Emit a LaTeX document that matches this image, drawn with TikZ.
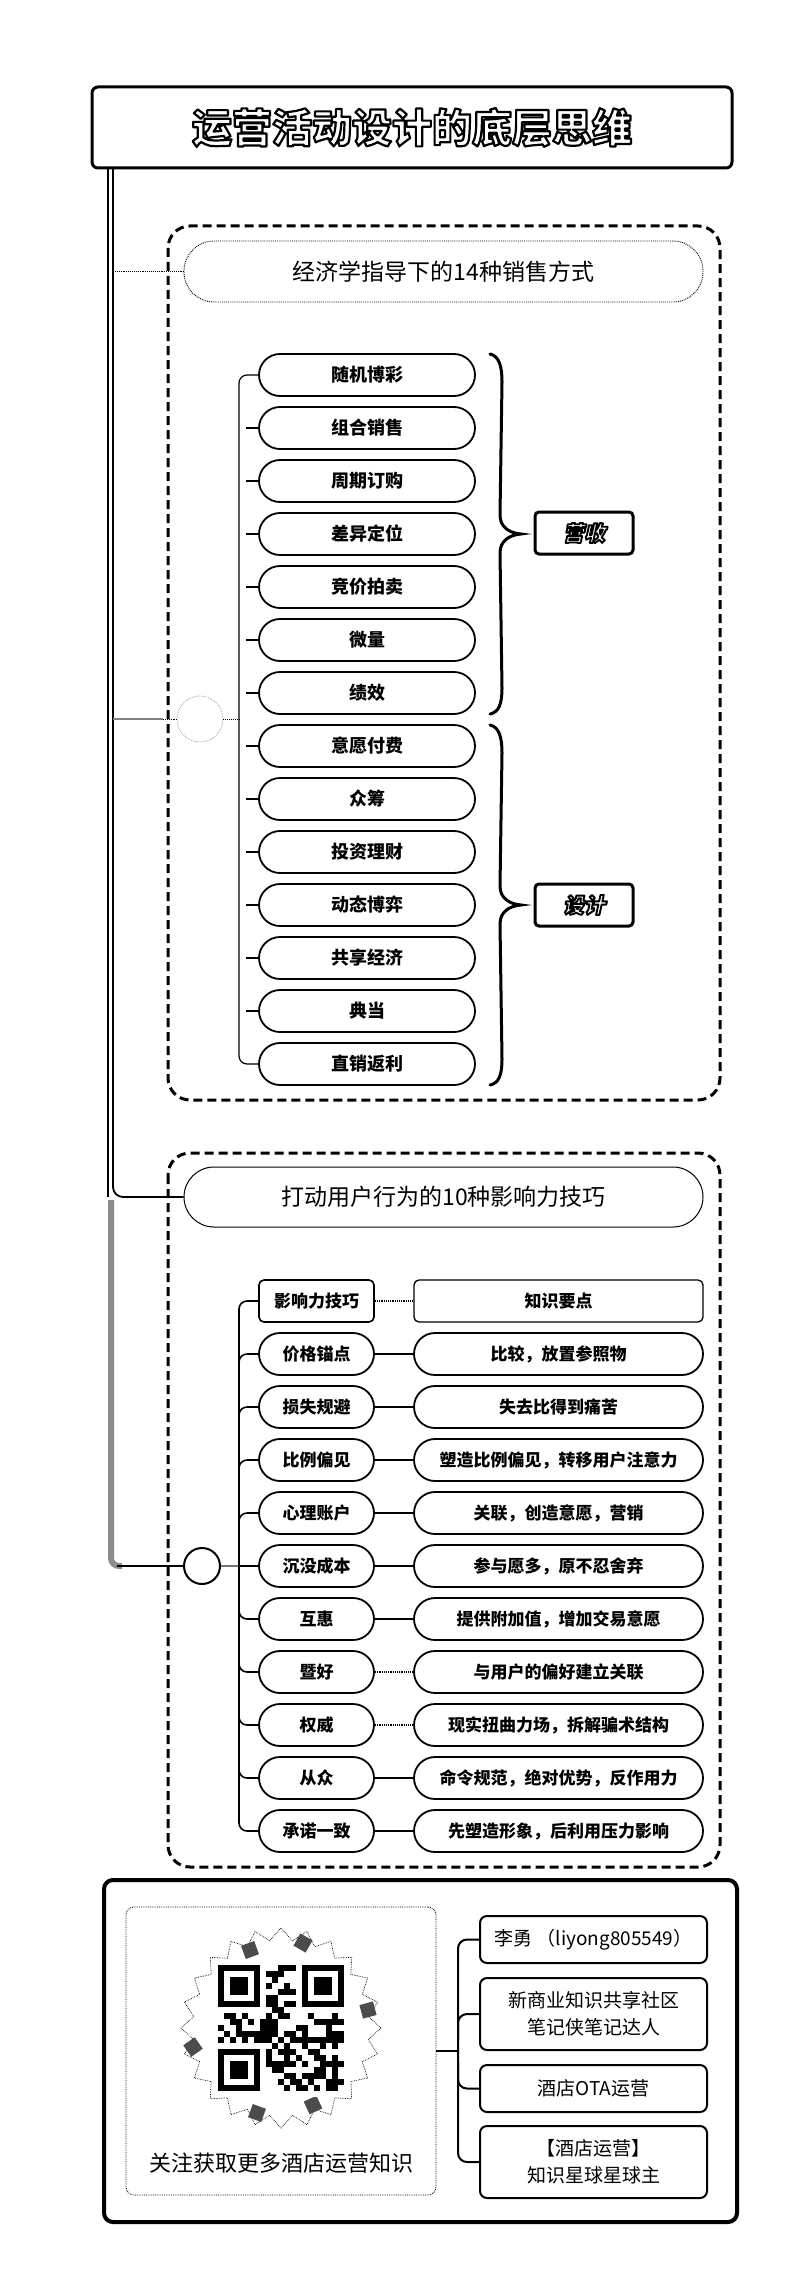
\documentclass[tikz,border=0pt]{standalone}
\usepackage{fontspec}
\setmainfont{Noto Sans CJK SC}
\newfontfamily\slantfont{Noto Sans CJK SC}[FakeSlant=0.22]
\usetikzlibrary{calc}
\newcommand\outl[2]{\special{pdf:literal direct 1 g 0 G 2 Tr 1 j #1 w}#2\special{pdf:literal direct 0 Tr 0 g 0 G 0 j 0.4 w}}
\tikzset{
  itembox/.style={draw, line width=1.8, rounded corners=21, minimum width=216, minimum height=42, inner sep=0, font=\bfseries\fontsize{18}{20}\selectfont},
  leftbox/.style={draw, line width=1.8, rounded corners=21, minimum width=115, minimum height=42, inner sep=0, font=\bfseries\fontsize{17}{20}\selectfont},
  rightbox/.style={draw, line width=1.8, rounded corners=21, minimum width=289, minimum height=42, inner sep=0, font=\bfseries\fontsize{17}{20}\selectfont},
  infobox/.style={draw, line width=2, rounded corners=7, minimum width=227, inner sep=0, align=center, font=\fontsize{19}{27}\selectfont},
  secbox/.style={draw, line width=3, dash pattern=on 9pt off 5pt, rounded corners=22},
  conn/.style={line width=1.6},
  labelbox/.style={draw, line width=3, rounded corners=4, minimum width=98, minimum height=42, inner sep=0, font=\slantfont\bfseries\fontsize{21}{24}\selectfont},
}
\begin{document}
\begin{tikzpicture}[x=1pt, y=-1pt]
\fill[white] (0,0) rectangle (800,2290);
\useasboundingbox (0,0) rectangle (800,2290);

% ---------- title ----------
\node[draw, line width=3, rounded corners=6, minimum width=640, minimum height=81, inner sep=0, font=\bfseries\fontsize{40}{48}\selectfont] (title) at (412,127.5) {\outl{2.2}{运营活动设计的底层思维}};

% ---------- section boxes ----------
\draw[secbox] (168,226) rectangle (720,1100);
\draw[secbox] (168,1153) rectangle (720,1867);

\node[draw, densely dotted, line width=0.9, rounded corners=30, minimum width=519, minimum height=61, inner sep=0, font=\fontsize{23}{28}\selectfont] (h1) at (443.5,271.5) {经济学指导下的14种销售方式};
\node[draw, line width=1, rounded corners=30, minimum width=519, minimum height=60, inner sep=0, font=\fontsize{23}{28}\selectfont] (h2) at (443.5,1197) {打动用户行为的10种影响力技巧};

% ---------- spine ----------
\draw[line width=1.5] (108,168) -- (108,1197);
\draw[line width=1.8, rounded corners=10] (113,168) |- (h2.west);
\draw[densely dotted, line width=0.9] (113,271.5) -- (h1.west);
\draw[line width=6, black!45, rounded corners=8] (111,1200) -- (111,1566) -- (122,1566);

% ---------- section 1 items ----------
\foreach \t [count=\k] in {随机博彩,组合销售,周期订购,差异定位,竞价拍卖,微量,绩效,意愿付费,众筹,投资理财,动态博弈,共享经济,典当,直销返利}{
  \node[itembox] (i\k) at (367,{375+53*(\k-1)}) {\t};
}
\node[circle, draw=black!35, densely dotted, line width=0.8, minimum size=46, inner sep=0] (c1) at (200,719) {};
\draw[line width=2.5, black!50] (113,719) -- (163,719);
\draw[densely dotted, line width=0.9] (163,719) -- (c1.west);
\draw[densely dotted, line width=0.9] (c1.east) -- (239,719);
\draw[line width=1.2, rounded corners=8] (i1.west) -| (239,719) |- (i14.west);
\foreach \k in {2,...,13}{
  \draw[line width=2] (246,{375+53*(\k-1)}) -- (i\k.west);
}

% braces
\draw[line width=3, line cap=round] (490,354) .. controls (499,356) and (502,366) .. (502,382) -- (500,515) .. controls (500,527) and (509,533) .. (521,534) .. controls (509,535) and (500,541) .. (500,553) -- (502,688) .. controls (502,704) and (499,712) .. (490,714);
\draw[line width=3, line cap=round] (490,725) .. controls (499,727) and (502,737) .. (502,753) -- (500,886) .. controls (500,898) and (509,904) .. (521,905) .. controls (509,906) and (500,912) .. (500,924) -- (502,1059) .. controls (502,1075) and (499,1083) .. (490,1085);

\node[labelbox] (ys) at (584,533) {\outl{1.9}{营收}};
\node[labelbox] (sj) at (584,905) {\outl{1.9}{设计}};

% ---------- section 2 table ----------
\node[leftbox, rounded corners=5, line width=1.6] (L1) at (316.5,1301) {影响力技巧};
\node[rightbox, rounded corners=5, line width=1.3] (R1) at (558.5,1301) {知识要点};
\draw[densely dotted, line width=1.2] (L1.east) -- (R1.west);
\foreach \l/\r [count=\k from 2] in {价格锚点/{比较，放置参照物},损失规避/失去比得到痛苦,比例偏见/{塑造比例偏见，转移用户注意力},心理账户/{关联，创造意愿，营销},沉没成本/{参与愿多，原不忍舍弃},互惠/{提供附加值，增加交易意愿},暨好/与用户的偏好建立关联,权威/{现实扭曲力场，拆解骗术结构},从众/{命令规范，绝对优势，反作用力},承诺一致/{先塑造形象，后利用压力影响}}{
  \node[leftbox] (L\k) at (316.5,{1301+53*(\k-1)}) {\l};
  \node[rightbox] (R\k) at (558.5,{1301+53*(\k-1)}) {\r};
}
\foreach \k in {2,3,4,5,6,7,10,11}{ \draw[conn] (L\k.east) -- (R\k.west); }
\foreach \k in {8,9}{ \draw[densely dotted, line width=1.2] (L\k.east) -- (R\k.west); }

\node[circle, draw, line width=2, minimum size=36, inner sep=0] (c2) at (202,1566) {};
\draw[line width=2] (117,1566) -- (c2.west);
\draw[line width=2, black!55] (c2.east) -- (239,1566);
\draw[conn, rounded corners=8] (L1.west) -| (239,1566) |- (L11.west);
\foreach \k in {2,3,4,5}{ \draw[conn, rounded corners=8] (239,{1301+53*(\k-1)+25}) |- (L\k.west); }
\foreach \k in {7,8,9,10}{ \draw[conn, rounded corners=8] (239,{1301+53*(\k-1)-25}) |- (L\k.west); }
\draw[conn] (239,1566) -- (L6.west);

% ---------- bottom ----------
\node[draw, line width=4, rounded corners=9, minimum width=633, minimum height=342, inner sep=0] (bot) at (420.5,2051) {};
\node[draw, densely dotted, line width=0.8, rounded corners=8, minimum width=310, minimum height=288, inner sep=0] (qrp) at (281,2051) {};
\node[font=\fontsize{22}{26}\selectfont] (qrt) at (281,2163) {关注获取更多酒店运营知识};

% starburst
\draw[densely dotted, line width=0.7, shift={(281,2028)}] (0:100) \foreach \a in {1,...,47}{ -- ({\a*7.5}:{mod(\a,2)==0 ? 100 : 88}) } -- cycle;
% decorations
\foreach \p/\r in {{(250,1950)}/20,{(303,1943)}/60,{(368,2010)}/15,{(193,2047)}/35,{(257,2113)}/70,{(313,2105)}/25}{
  \fill[black!70, rotate around={\r:\p}] \p ++(-7,-7) rectangle ++(14,14);
}
% QR code pattern
\fill[white] (212,1959) rectangle (350,2097);
\pgfmathsetseed{7}
\foreach \i in {0,...,20}{
  \foreach \j in {0,...,20}{
    \pgfmathtruncatemacro\qsk{((\i<8)&&(\j<8)) || ((\i>12)&&(\j<8)) || ((\i<8)&&(\j>12))}
    \pgfmathtruncatemacro\qr{100*rnd}
    \ifnum\qsk=0 \ifnum\qr<48
      \fill[black] ({218+6*\i},{1965+6*\j}) rectangle ++(6,6);
    \fi\fi
  }
}
\foreach \ox/\oy in {0/0,14/0,0/14}{
  \fill[black] ({218+6*\ox},{1965+6*\oy}) rectangle ++(42,42);
  \fill[white] ({224+6*\ox},{1971+6*\oy}) rectangle ++(30,30);
  \fill[black] ({230+6*\ox},{1977+6*\oy}) rectangle ++(18,18);
}

% info boxes
\node[infobox, minimum height=47] (b1) at (593.5,1939.5) {李勇 （liyong805549）};
\node[infobox, minimum height=72] (b2) at (593.5,2014) {新商业知识共享社区\\笔记侠笔记达人};
\node[infobox, minimum height=47] (b3) at (593.5,2088.5) {酒店OTA运营};
\node[infobox, minimum height=72] (b4) at (593.5,2162) {【酒店运营】\\知识星球星球主};
\draw[line width=2] (qrp.east) -- (458,2051);
\draw[line width=2, rounded corners=9] (b1.west) -| (458,2051) |- (b4.west);
\draw[line width=2, rounded corners=9] (458,2040) |- (b2.west);
\draw[line width=2, rounded corners=9] (458,2062) |- (b3.west);
\end{tikzpicture}
\end{document}
